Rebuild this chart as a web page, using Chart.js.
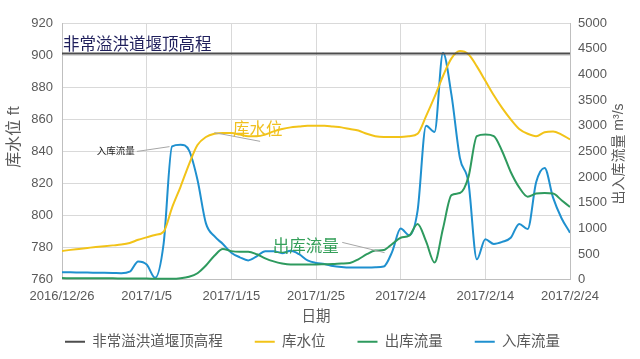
<!DOCTYPE html>
<html>
<head>
<meta charset="utf-8">
<script src="https://cdn.jsdelivr.net/npm/chart.js@4/dist/chart.umd.min.js"></script>
<style>
  body { margin: 0; background: #fff; }
</style>
</head>
<body>
<canvas id="chart" width="640" height="359"></canvas>
<script>
// days since 2016/12/26
const days = [0, 1, 2, 3, 4, 5, 6, 7, 8, 9, 10, 11, 12, 13, 14, 15, 16, 17, 18, 19, 20,
  21, 22, 23, 24, 25, 26, 27, 28, 29, 30, 31, 32, 33, 34, 35, 36, 37, 38, 39, 40,
  41, 42, 43, 44, 45, 46, 47, 48, 49, 50, 51, 52, 53, 54, 55, 56, 57, 58, 59, 60];
const dateLabels = ["2016/12/26", "2017/1/5", "2017/1/15", "2017/1/25", "2017/2/4", "2017/2/14", "2017/2/24"];

// 库水位 (ft)
const level = [778, 778.7, 779.3, 779.9, 780.5, 781, 781.5, 782, 783, 785, 786.5,
  788, 790, 805, 818, 832, 844, 849, 851, 851.5, 851.5,
  850.5, 849.5, 849.5, 850.5, 852.5, 854, 855, 855.5, 856, 856,
  856, 855.5, 855, 854, 853, 851, 849.5, 849, 849, 849,
  849.5, 851, 862, 874, 887, 898, 902.5, 900.5, 893, 884,
  875, 867, 860, 854, 851, 849.5, 852, 852.5, 850.5, 847.5];

// 出库流量 (m3/s)
const outflow = [35, 34, 33, 32, 31, 30, 30, 28, 27, 26, 25,
  22, 20, 20, 30, 60, 130, 280, 470, 600, 560,
  550, 550, 500, 420, 360, 320, 300, 300, 300, 300,
  305, 310, 320, 330, 400, 500, 570, 580, 700, 820,
  860, 1090, 750, 340, 1000, 1650, 1690, 2000, 2800, 2830,
  2800, 2500, 2100, 1800, 1620, 1680, 1690, 1680, 1550, 1420];

// 入库流量 (m3/s)
const inflow = [150, 148, 145, 142, 140, 138, 135, 130, 160, 360, 300,
  40, 700, 2600, 2630, 2520, 1950, 1100, 850, 700, 530,
  440, 380, 460, 560, 560, 520, 565, 500, 380, 330,
  310, 270, 250, 240, 240, 240, 245, 260, 550, 1000,
  870, 1350, 3000, 2880, 4420, 3600, 2370, 1900, 400, 790,
  700, 740, 820, 1090, 990, 1900, 2180, 1600, 1200, 920];

const crestLevel = 901;   // 非常溢洪道堰顶高程

const pts = (ys) => days.map((d, i) => ({ x: d, y: ys[i] }));

const grey = '#595959';
const cjk = '"Liberation Sans", "Noto Sans CJK SC", sans-serif';

const notes = {
  id: 'notes',
  afterDatasetsDraw(chart) {
    const { ctx, chartArea: a, scales: { x, y, y1 } } = chart;
    const px = v => x.getPixelForValue(v);
    ctx.save();

    // leader lines
    ctx.strokeStyle = '#a6a6a6';
    ctx.lineWidth = 1;
    const seg = (x0, y0, x1, y1p) => {
      ctx.beginPath(); ctx.moveTo(x0, y0); ctx.lineTo(x1, y1p); ctx.stroke();
    };
    seg(px(18), y.getPixelForValue(851.7), px(23.4), y.getPixelForValue(846.3));
    seg(px(33.1), y1.getPixelForValue(730), px(38.1), y1.getPixelForValue(530));
    seg(px(8.85), y.getPixelForValue(840), px(12.7), y.getPixelForValue(843));

    ctx.textBaseline = 'alphabetic';
    ctx.textAlign = 'left';
    ctx.font = '16.5px ' + cjk;
    ctx.fillStyle = '#1f1f5c';
    ctx.fillText('非常溢洪道堰顶高程', a.left + 1, y.getPixelForValue(crestLevel) - 4);

    ctx.fillStyle = '#f0c020';
    ctx.fillText('库水位', px(20.2), y.getPixelForValue(850.4));

    ctx.fillStyle = '#35a05a';
    ctx.fillText('出库流量', px(24.9), y1.getPixelForValue(551));

    ctx.font = '9.5px ' + cjk;
    ctx.fillStyle = '#222';
    ctx.textAlign = 'right';
    ctx.textBaseline = 'middle';
    ctx.fillText('入库流量', px(8.6), y.getPixelForValue(840));
    ctx.restore();
  },
  afterDraw(chart) {
    const { ctx, chartArea: a } = chart;
    ctx.save();
    ctx.fillStyle = grey;
    ctx.textAlign = 'center';
    ctx.textBaseline = 'middle';

    ctx.font = '14.5px ' + cjk;
    ctx.fillText('日期', (a.left + a.right) / 2, 317);

    ctx.save();
    ctx.translate(15, 137);
    ctx.rotate(-Math.PI / 2);
    ctx.font = '16px ' + cjk;
    ctx.fillText('库水位 ft', 0, 0);
    ctx.restore();

    ctx.save();
    ctx.translate(619, 154);
    ctx.rotate(-Math.PI / 2);
    ctx.font = '14px ' + cjk;
    ctx.fillText('出入库流量 m³/s', 0, 0);
    ctx.restore();

    ctx.restore();
  }
};

new Chart(document.getElementById('chart'), {
  type: 'line',
  data: {
    datasets: [
      {
        label: '非常溢洪道堰顶高程',
        data: [{ x: days[0], y: crestLevel }, { x: days[days.length - 1], y: crestLevel }],
        borderColor: '#4d4d4d',
        backgroundColor: '#4d4d4d',
        borderWidth: 2,
        pointRadius: 0,
        yAxisID: 'y'
      },
      {
        label: '库水位',
        data: pts(level),
        borderColor: '#f2c318',
        backgroundColor: '#f2c318',
        borderWidth: 2,
        pointRadius: 0,
        cubicInterpolationMode: 'monotone',
        yAxisID: 'y'
      },
      {
        label: '出库流量',
        data: pts(outflow),
        borderColor: '#2e9a5e',
        backgroundColor: '#2e9a5e',
        borderWidth: 2,
        pointRadius: 0,
        cubicInterpolationMode: 'monotone',
        yAxisID: 'y1'
      },
      {
        label: '入库流量',
        data: pts(inflow),
        borderColor: '#1f90cf',
        backgroundColor: '#1f90cf',
        borderWidth: 2,
        pointRadius: 0,
        cubicInterpolationMode: 'monotone',
        yAxisID: 'y1'
      }
    ]
  },
  options: {
    responsive: false,
    animation: false,
    devicePixelRatio: 1,
    layout: { padding: { top: 23, right: 15 } },
    font: { family: cjk },
    plugins: {
      legend: {
        position: 'bottom',
        labels: {
          usePointStyle: true,
          pointStyle: 'line',
          pointStyleWidth: 20,
          padding: 32,
          color: grey,
          font: { size: 14.5, family: cjk }
        }
      },
      tooltip: { enabled: false }
    },
    scales: {
      x: {
        type: 'linear',
        min: 0,
        max: 60,
        afterFit: s => { s.height = 22.6; },
        ticks: {
          stepSize: 10,
          padding: 9,
          maxRotation: 0,
          color: grey,
          font: { size: 13, family: cjk },
          callback: v => dateLabels[v / 10]
        },
        grid: { color: '#d9d9d9', drawTicks: false },
        border: { color: '#bfbfbf' }
      },
      y: {
        position: 'left',
        min: 760,
        max: 920,
        afterFit: s => { s.width = 62; },
        ticks: { stepSize: 20, padding: 9, color: grey, font: { size: 13, family: cjk } },
        grid: { color: '#d9d9d9', drawTicks: false },
        border: { color: '#bfbfbf' }
      },
      y1: {
        position: 'right',
        min: 0,
        max: 5000,
        afterFit: s => { s.width = 55; },
        ticks: {
          stepSize: 500,
          padding: 8,
          color: grey,
          font: { size: 13, family: cjk },
          callback: v => String(v)
        },
        grid: { drawOnChartArea: false, drawTicks: false },
        border: { color: '#bfbfbf' }
      }
    }
  },
  plugins: [notes]
});
</script>
</body>
</html>
